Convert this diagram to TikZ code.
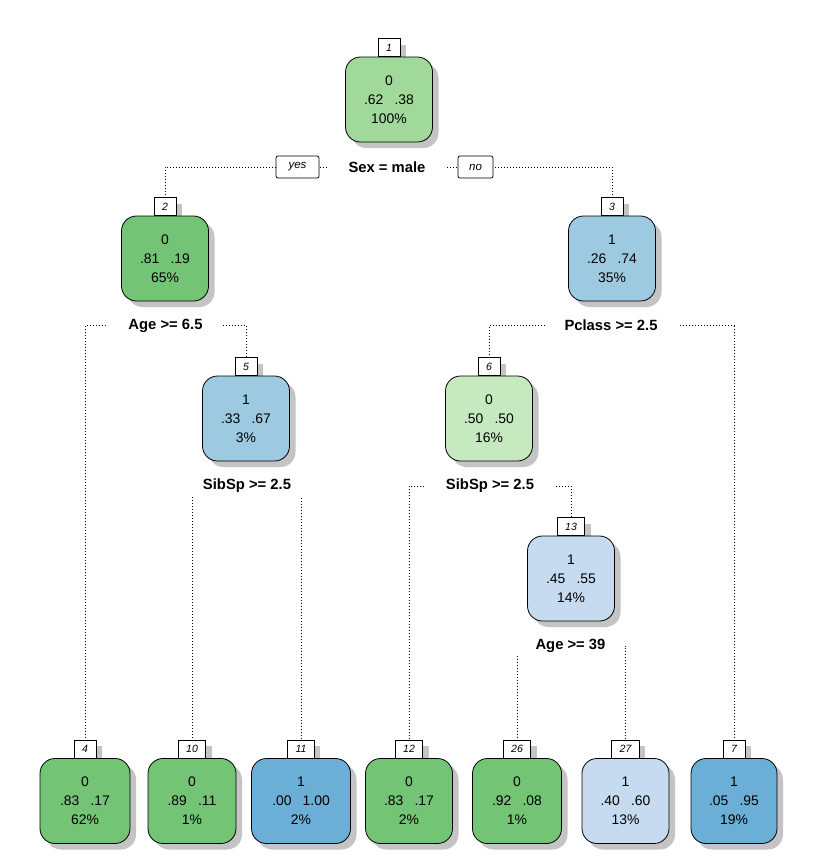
\documentclass[tikz,border=0pt]{standalone}
\usepackage{fontspec}
\setmainfont{Liberation Sans}
\usetikzlibrary{shadows,backgrounds}

\definecolor{gLight}{HTML}{C7E9C0}
\definecolor{gMid}{HTML}{A1D99B}
\definecolor{gDark}{HTML}{74C476}
\definecolor{bLight}{HTML}{C6DBEF}
\definecolor{bMid}{HTML}{9ECAE1}
\definecolor{bDark}{HTML}{6BAED6}
\definecolor{shadowgray}{HTML}{C4C4C4}

\tikzset{
  boxshadow/.style={drop shadow={shadow xshift=6pt,shadow yshift=-6pt,fill=shadowgray,opacity=1}},
  nodebox/.style={draw=black, line width=0.8pt, rounded corners=15pt,
    minimum width=87pt, minimum height=85pt, align=center, inner sep=0pt,
    font=\fontsize{13.9}{19}\selectfont, boxshadow},
  numlab/.style={draw=black, fill=white, line width=0.7pt, anchor=south,
    minimum width=21pt, minimum height=18pt, inner xsep=8pt, inner ysep=0pt,
    font=\itshape\fontsize{10.5}{12}\selectfont, boxshadow},
  splitlab/.style={fill=white, inner xsep=20pt, inner ysep=0pt, minimum height=22pt,
    font=\bfseries\fontsize{14.8}{17}\selectfont},
  yesno/.style={draw=black, fill=white, line width=0.7pt, rounded corners=2pt,
    minimum height=22pt, inner xsep=0pt, font=\itshape\fontsize{11.5}{13}\selectfont},
  branch/.style={line width=1pt, dash pattern=on 1pt off 2pt}
}

% gap between the two class probabilities
\newcommand\pgap{\hspace{0.8em}}

% tree node: name, x, y (box centre), id, fill, text
\newcommand\treebox[7][]{%
  \node[numlab] (l#2) at (#3,#4-42.5) {#5};
  \node[nodebox, fill=#6, #1] (n#2) at (#3,#4) {#7};
}

\begin{document}
\begin{tikzpicture}[x=1pt,y=-1pt]
\useasboundingbox (0,0) rectangle (819,865);

% inner nodes
\treebox{1}{389}{99.5}{1}{gMid}{0\\.62\pgap.38\\100\%}
\treebox{2}{165}{258.5}{2}{gDark}{0\\.81\pgap.19\\65\%}
\treebox{3}{612}{258.5}{3}{bMid}{1\\.26\pgap.74\\35\%}
\treebox{5}{246}{418.5}{5}{bMid}{1\\.33\pgap.67\\3\%}
\treebox{6}{489}{418.5}{6}{gLight}{0\\.50\pgap.50\\16\%}
\treebox{13}{571}{578.5}{13}{bLight}{1\\.45\pgap.55\\14\%}

% leaves
\treebox[minimum width=90pt]{4}{85}{801}{4}{gDark}{0\\.83\pgap.17\\62\%}
\treebox[minimum width=88pt]{10}{192}{801}{10}{gDark}{0\\.89\pgap.11\\1\%}
\treebox[minimum width=99pt]{11}{301}{801}{11}{bDark}{1\\.00\pgap1.00\\2\%}
\treebox{12}{409}{801}{12}{gDark}{0\\.83\pgap.17\\2\%}
\treebox[minimum width=89pt]{26}{517}{801}{26}{gDark}{0\\.92\pgap.08\\1\%}
\treebox{27}{625.5}{801}{27}{bLight}{1\\.40\pgap.60\\13\%}
\treebox[minimum width=86pt]{7}{734}{801}{7}{bDark}{1\\.05\pgap.95\\19\%}

% split labels
\node[splitlab] (s1) at (387,167) {Sex = male};
\node[splitlab] (s2) at (165.5,325.5) {Age >= 6.5};
\node[splitlab] (s3) at (611,325.5) {Pclass >= 2.5};
\node[splitlab] (s5) at (247,486) {SibSp >= 2.5};
\node[splitlab] (s6) at (490,486) {SibSp >= 2.5};
\node[splitlab, minimum height=18pt] (s13) at (570.5,646) {Age >= 39};

% yes / no tags on the root split
\node[yesno, minimum width=43pt] (yes) at (297.5,167) {yes};
\node[yesno, minimum width=35pt] (no) at (475.5,167) {no};

% white page, then the dotted branches beneath all nodes
\begin{pgfonlayer}{background}
  \fill[white] (0,0) rectangle (819,865);
  \draw[branch] (s1.center) -| (l2.north);
  \draw[branch] (s1.center) -| (l3.north);
  \draw[branch] (s2.center) -| (l4.north);
  \draw[branch] (s2.center) -| (l5.north);
  \draw[branch] (s3.center) -| (l6.north);
  \draw[branch] (s3.center) -| (l7.north);
  \draw[branch] (s5.center) -| (l10.north);
  \draw[branch] (s5.center) -| (l11.north);
  \draw[branch] (s6.center) -| (l12.north);
  \draw[branch] (s6.center) -| (l13.north);
  \draw[branch] (s13.center) -| (l26.north);
  \draw[branch] (s13.center) -| (l27.north);
\end{pgfonlayer}
\end{tikzpicture}
\end{document}
